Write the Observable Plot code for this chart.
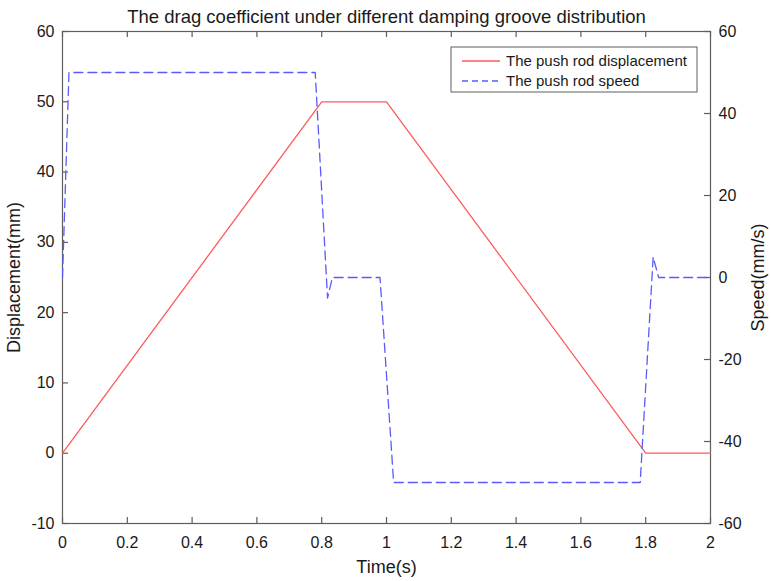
<!DOCTYPE html>
<html><head><meta charset="utf-8">
<script src="https://cdn.jsdelivr.net/npm/d3@7"></script>
<script src="https://cdn.jsdelivr.net/npm/@observablehq/plot@0.6"></script>
<style>body{margin:0;background:#fff;}</style>
</head><body><div id="chart"></div>
<script>
const chartTitle = "The drag coefficient under different damping groove distribution";
const xLabel = "Time(s)";
const leftLabel = "Displacement(mm)";
const rightLabel = "Speed(mm/s)";
const seriesNames = ["The push rod displacement", "The push rod speed"];

const dispTime  = [0, 0.8, 1.0, 1.8, 2.0];
const dispValue = [0, 50, 50, 0, 0];

const speedTime  = [0, 0.02, 0.78, 0.818, 0.833, 0.98, 1.022, 1.783, 1.823, 1.84, 2.0];
const speedValue = [0, 50, 50, -5, 0, 0, -50, -50, 5, 0, 0];

const xTicks = [0, 0.2, 0.4, 0.6, 0.8, 1, 1.2, 1.4, 1.6, 1.8, 2];
const leftTicks = [-10, 0, 10, 20, 30, 40, 50, 60];
const rightTicks = [-60, -40, -20, 0, 20, 40, 60];

const leftDomain = [-10, 60];
const rightDomain = [-60, 60];
const toLeft = s => leftDomain[0] + (s - rightDomain[0]) * (leftDomain[1] - leftDomain[0]) / (rightDomain[1] - rightDomain[0]);
const fromLeft = v => rightDomain[0] + (v - leftDomain[0]) * (rightDomain[1] - rightDomain[0]) / (leftDomain[1] - leftDomain[0]);

const RED = "#ff5a5a", BLUE = "#5a5aff";
const DASH = "9,5";

const disp = dispTime.map((t, i) => ({t, v: dispValue[i]}));
const speed = speedTime.map((t, i) => ({t, v: speedValue[i]}));

const axisColor = "#5e5e5e";
const font = "'Liberation Sans', Arial, Helvetica, sans-serif";
const W = 771, H = 581, ML = 62, MR = 61, MT = 31, MB = 58;
const FW = W - ML - MR, FH = H - MT - MB;
const TK = 6;

const plot = Plot.plot({
  width: W, height: H,
  marginLeft: ML, marginRight: MR, marginTop: MT, marginBottom: MB,
  style: {fontFamily: font, fontSize: "16px", color: "#1a1a1a", background: "#fff", overflow: "visible"},
  x: {domain: [0, 2]},
  y: {domain: leftDomain},
  marks: [
    // inward tick marks (MATLAB style)
    Plot.tickX(xTicks, {x: d => d, insetTop: FH - TK, stroke: axisColor, strokeWidth: 1.2}),
    Plot.tickX(xTicks, {x: d => d, insetBottom: FH - TK, stroke: axisColor, strokeWidth: 1.2}),
    Plot.tickY(leftTicks, {y: d => d, insetRight: FW - TK, stroke: axisColor, strokeWidth: 1.2}),
    Plot.tickY(rightTicks.map(toLeft), {y: d => d, insetLeft: FW - TK, stroke: axisColor, strokeWidth: 1.2}),
    Plot.frame({stroke: axisColor, strokeWidth: 1.2}),
    Plot.axisX({anchor: "bottom", ticks: xTicks, tickSize: 0, tickPadding: 13, tickFormat: d => String(d), fontSize: 16, label: null}),
    Plot.text([xLabel], {frameAnchor: "bottom", dy: 44, fontSize: 18, lineAnchor: "middle", fill: "#1a1a1a"}),
    Plot.axisY({anchor: "left", ticks: leftTicks, tickSize: 0, tickPadding: 8, tickFormat: d => String(d), fontSize: 16, label: null}),
    Plot.text([leftLabel], {frameAnchor: "left", dx: -48, rotate: -90, textAnchor: "middle", lineAnchor: "middle", fontSize: 18, fill: "#1a1a1a"}),
    Plot.axisY({anchor: "right", ticks: rightTicks.map(toLeft), tickSize: 0, tickPadding: 8, fontSize: 16,
      tickFormat: d => String(Math.round(fromLeft(d))), label: null}),
    Plot.text([rightLabel], {frameAnchor: "right", dx: 48, rotate: -90, textAnchor: "middle", lineAnchor: "middle", fontSize: 18, fill: "#1a1a1a"}),
    Plot.line(disp, {x: "t", y: "v", stroke: RED, strokeWidth: 1.3}),
    Plot.line(speed, {x: "t", y: d => toLeft(d.v), stroke: BLUE, strokeWidth: 1.3, strokeDasharray: DASH}),
    Plot.text([chartTitle], {frameAnchor: "top", dy: -14, fontSize: 18.5, lineAnchor: "middle", fill: "#1a1a1a"})
  ]
});
document.getElementById("chart").appendChild(plot);

// Legend (inside the axes, top right)
const svg = d3.select(plot);
const lg = svg.append("g").attr("transform", "translate(451,47)")
  .style("font-family", font).style("font-size", "15px").attr("text-anchor", "start");
lg.append("rect").attr("width", 246).attr("height", 45).attr("fill", "#fff").attr("stroke", axisColor).attr("stroke-width", 1);
const styles = [{stroke: RED, dash: null}, {stroke: BLUE, dash: "6,4"}];
seriesNames.forEach((name, i) => {
  const yy = 14 + i * 20;
  lg.append("line").attr("x1", 11).attr("x2", 49).attr("y1", yy).attr("y2", yy)
    .attr("stroke", styles[i].stroke).attr("stroke-width", 1.3).attr("stroke-dasharray", styles[i].dash);
  lg.append("text").attr("x", 55).attr("y", yy).attr("dy", "0.35em").attr("text-anchor", "start")
    .attr("fill", "#1a1a1a").text(name);
});
</script>
</body></html>
